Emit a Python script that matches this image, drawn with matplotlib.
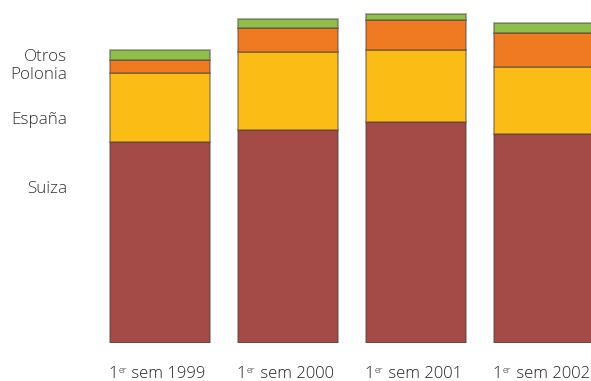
import matplotlib.pyplot as plt
import numpy as np
from matplotlib.offsetbox import TextArea, HPacker, AnnotationBbox

plt.rcParams['font.family'] = ['Open Sans', 'DejaVu Sans']

periods = ["1999", "2000", "2001", "2002"]
series = ["Suiza", "España", "Polonia", "Otros"]
suiza = [201, 213, 221, 209]
espana = [69, 78, 72, 67]
polonia = [13, 24, 30, 34]
otros = [10, 9, 6, 10]

colors = ["#A54B47", "#FBBD15", "#EF7A22", "#8FBF4A"]
# y position (data units) of each series name on the left
label_y = [156, 225, 270, 288]

fig = plt.figure(figsize=(5.91, 3.81), dpi=100)
ax = fig.add_axes([0, 38 / 381, 1, 343 / 381])

x = np.arange(len(periods))
bottom = np.zeros(len(periods))
for vals, col in zip([suiza, espana, polonia, otros], colors):
    ax.bar(x, vals, width=0.78, bottom=bottom, color=col,
           edgecolor=(0.25, 0.25, 0.25, 0.5), linewidth=1.2)
    bottom += np.array(vals)

for name, yv in zip(series, label_y):
    ax.annotate(name, xy=(67, 0), xycoords=("figure pixels", "data"),
                xytext=(0, yv - 2), textcoords=("offset points", "data"),
                ha="right", va="center", fontsize=12.3, fontweight="light",
                color="#333333")

# "1er sem YYYY" with a small raised "er"
big = dict(fontsize=12, fontweight="light", color="#222222")
small = dict(fontsize=6.5, fontweight="light", color="#222222")
for xi, p in zip(x, periods):
    parts = [TextArea("1", textprops=big),
             TextArea("er", textprops=small),
             TextArea(" sem " + p, textprops=big)]
    box = HPacker(children=parts, align="top", pad=0, sep=0.5)
    ab = AnnotationBbox(box, (xi, 0), xybox=(-3, -31), xycoords="data",
                        boxcoords="offset pixels", frameon=False,
                        box_alignment=(0.5, 0.5))
    ax.add_artist(ab)

ax.set_xlim(-1.25, 3.367)
ax.set_ylim(0, 343)
ax.axis("off")

fig.savefig("out.png", dpi=100)
